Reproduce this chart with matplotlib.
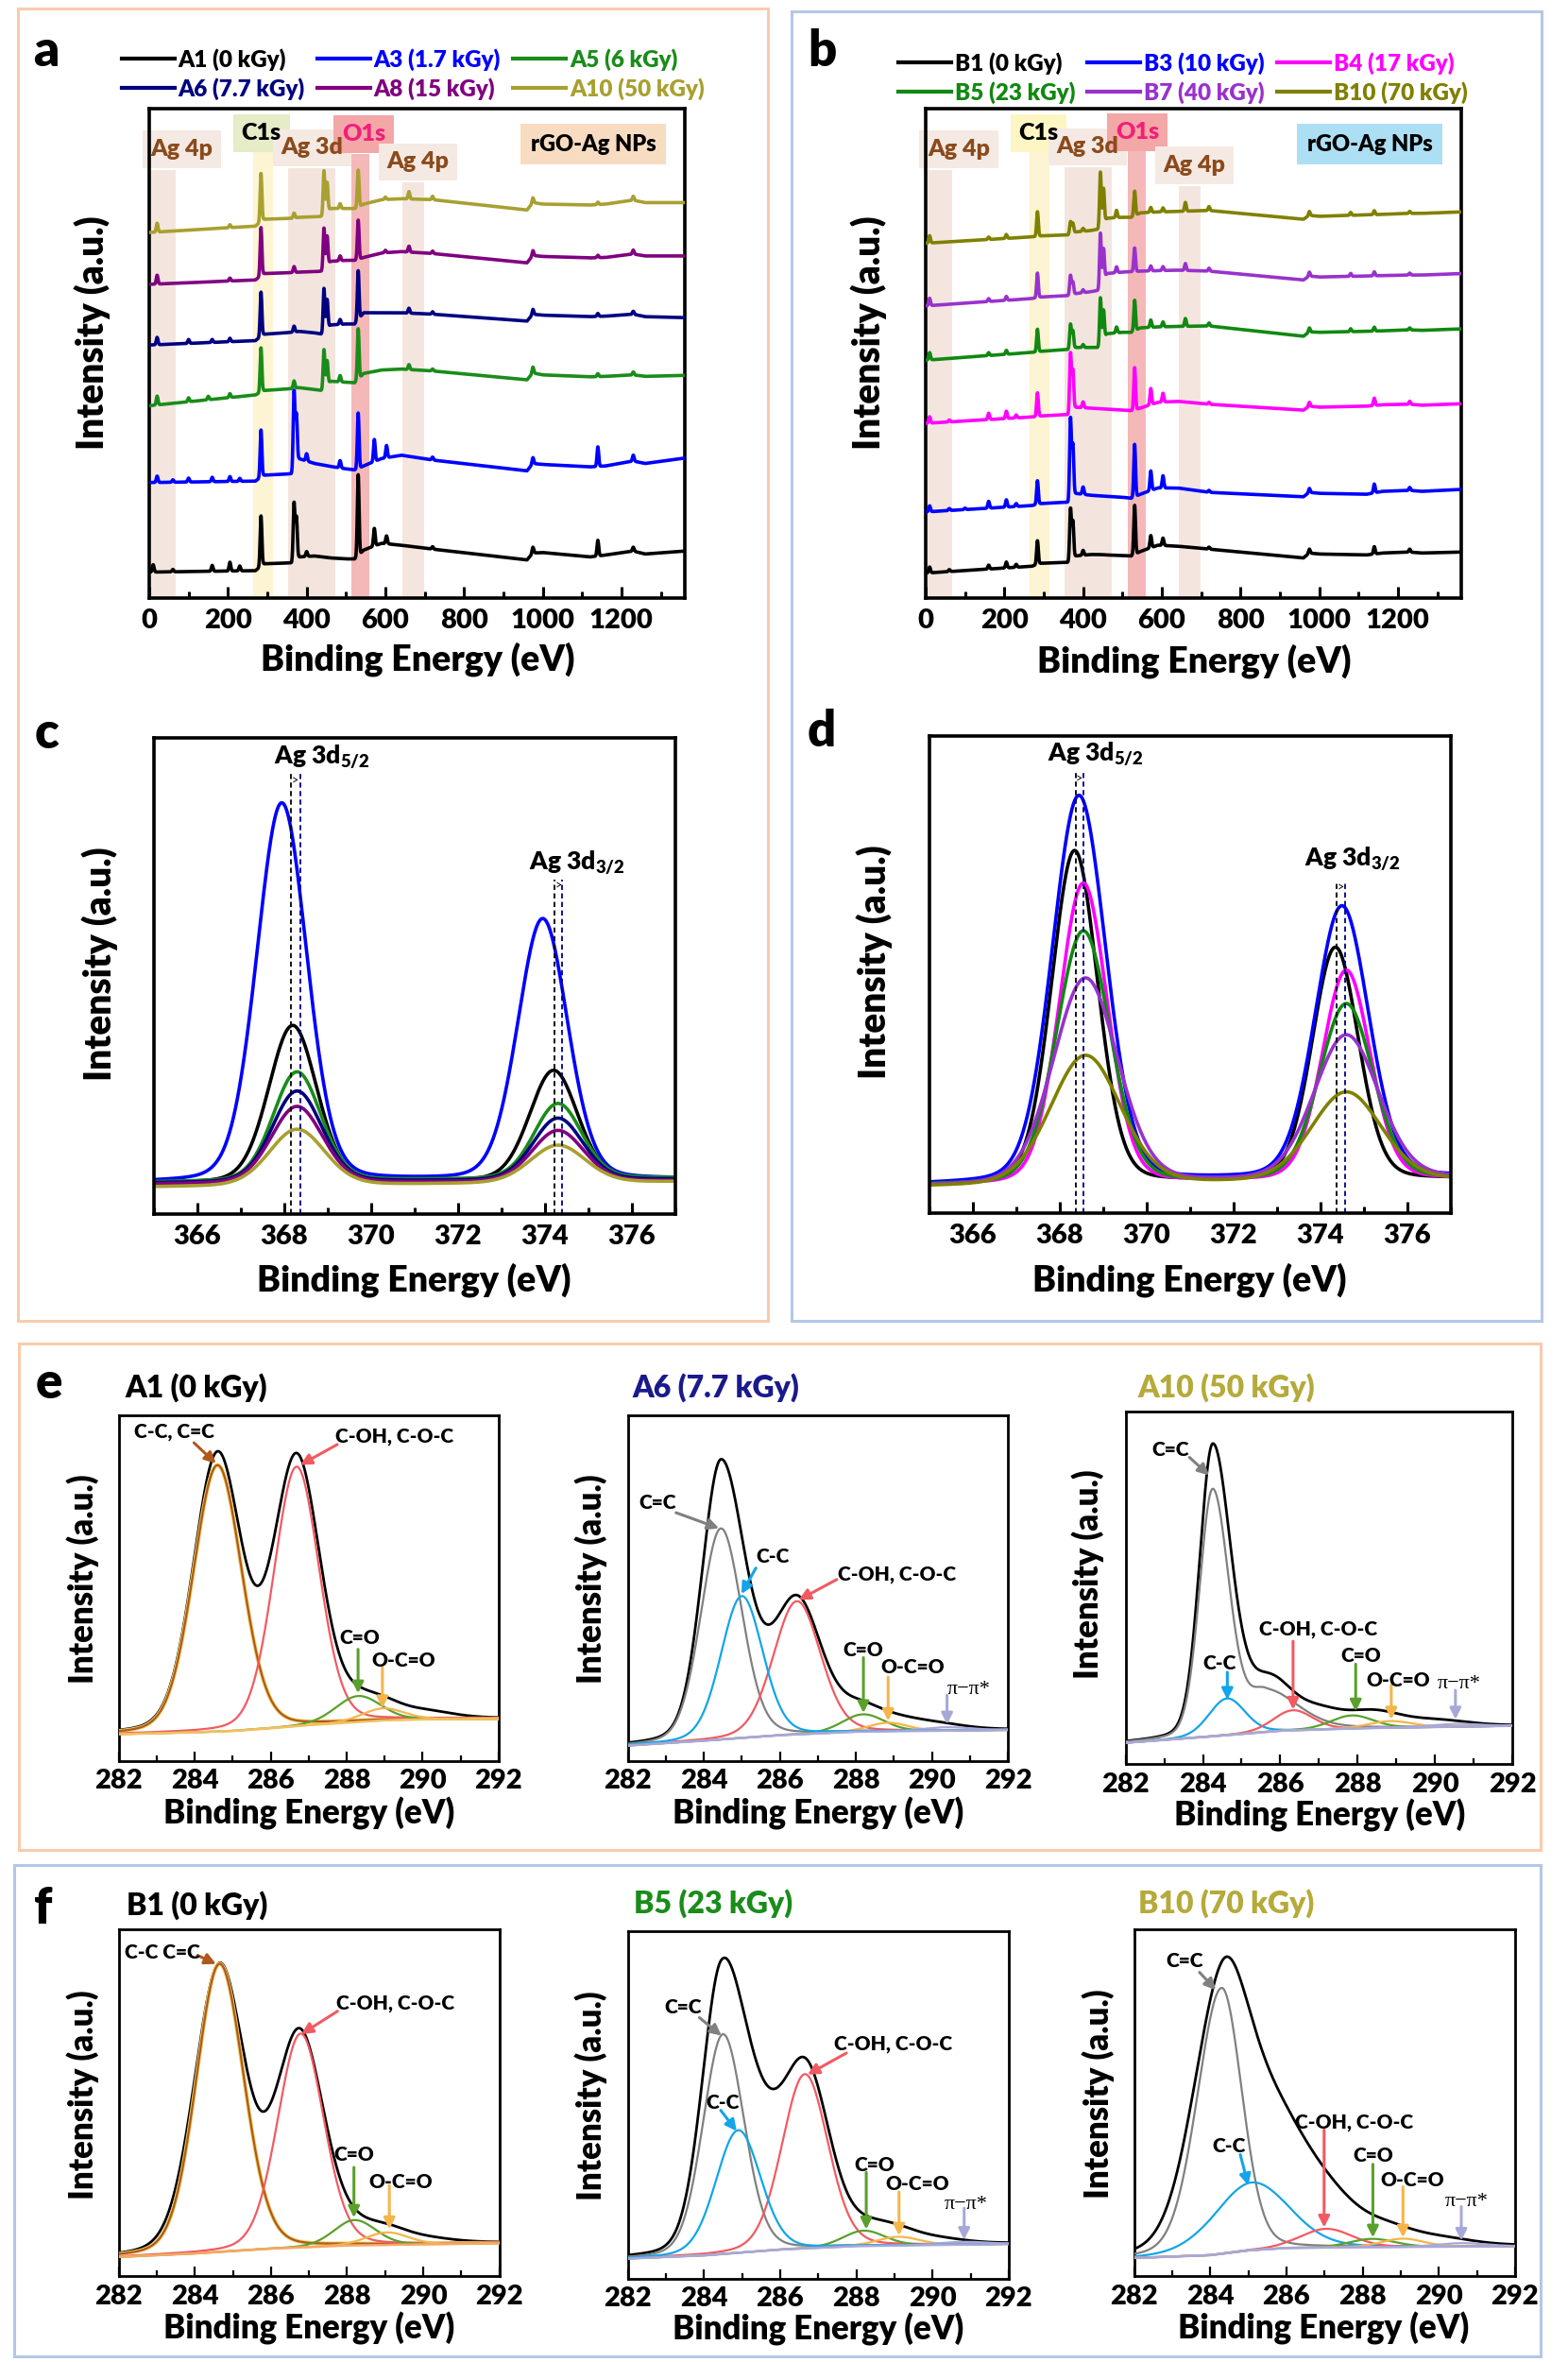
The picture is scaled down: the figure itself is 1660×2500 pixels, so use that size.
import numpy as np
import matplotlib
matplotlib.use('Agg')
import matplotlib.pyplot as plt
from matplotlib.patches import Rectangle

plt.rcParams['font.family'] = ['Lato', 'DejaVu Sans']
plt.rcParams['font.weight'] = 'heavy'
plt.rcParams['mathtext.fontset'] = 'custom'
plt.rcParams['mathtext.rm'] = 'Lato:heavy'
plt.rcParams['mathtext.it'] = 'Lato:heavy'
plt.rcParams['mathtext.bf'] = 'Lato:heavy'

W, H = 1660, 2500

# ---------------- survey spectra (a, b): baseline anchors + sharp lines ----------------
survey_E = [0, 270, 290, 362, 380, 420, 440, 460, 500, 522, 545, 590, 640, 720,
            960, 975, 1000, 1120, 1160, 1230, 1260, 1360]

A1_base = [5.3, 5.6, 7.0, 7.2, 8.4, 8.6, 8.4, 8.2, 8.0, 8.0, 9.8, 11.2, 10.8, 10.0, 7.8, 9.2, 9.3, 8.4, 8.8, 9.6, 9.0, 9.6]
A3_base = [23.6, 23.9, 25.1, 25.4, 28.5, 27.5, 27.2, 26.9, 26.4, 26.2, 27.0, 28.5, 29.2, 28.2, 26.0, 27.5, 27.3, 26.8, 27.0, 28.0, 27.5, 28.6]
A5_base = [39.3, 41.5, 42.4, 42.8, 43.0, 42.6, 42.4, 44.3, 44.1, 44.0, 45.9, 46.6, 46.8, 46.4, 44.6, 46.0, 45.6, 45.2, 45.3, 45.6, 45.3, 45.5]
A6_base = [51.7, 52.6, 53.9, 54.3, 54.5, 54.2, 53.9, 55.8, 56.0, 56.0, 58.3, 58.3, 58.3, 58.0, 56.6, 58.0, 57.8, 57.5, 57.6, 58.0, 57.5, 57.3]
A8_base = [64.1, 65.0, 66.3, 66.5, 66.6, 66.7, 66.8, 68.8, 69.0, 69.0, 69.6, 70.5, 70.8, 70.4, 68.5, 70.0, 69.8, 69.5, 69.6, 70.3, 69.9, 69.9]
A10_base = [74.7, 76.0, 77.4, 77.6, 77.8, 77.9, 78.0, 79.6, 79.6, 79.6, 80.5, 81.4, 81.6, 81.4, 79.3, 80.8, 80.5, 80.3, 80.5, 81.3, 80.8, 80.8]

A1_peaks = [(10, 1.5), (60, 0.5), (160, 1.2), (205, 1.8), (230, 1.0), (284, 10.2), (368, 11.8), (374, 8.5), (400, 1.0),
            (531, 16.5), (572, 3.6), (603, 1.6), (720, 0.5), (975, 1.2), (1140, 3.2), (1230, 0.8)]
A3_peaks = [(20, 1.3), (60, 0.5), (100, 0.8), (160, 0.9), (205, 1.0), (230, 0.6), (284, 9.6), (368, 15.8), (374, 10.0),
            (400, 1.5), (485, 1.5), (531, 11.3), (572, 4.5), (603, 2.5), (720, 0.6), (975, 1.2), (1140, 4.0), (1230, 1.2)]
A5_peaks = [(20, 1.8), (100, 0.8), (150, 0.7), (205, 0.8), (284, 9.0), (368, 1.5), (444, 8.0), (452, 5.0), (485, 1.3),
            (531, 10.3), (660, 1.0), (720, 0.4), (975, 1.2), (1140, 0.6), (1230, 0.6)]
A6_peaks = [(20, 1.5), (100, 0.8), (160, 0.6), (205, 0.7), (284, 9.0), (368, 1.2), (444, 9.0), (452, 6.0), (485, 1.0),
            (531, 10.0), (660, 1.0), (720, 0.5), (975, 1.0), (1140, 0.6), (1230, 0.6)]
A8_peaks = [(20, 1.8), (205, 0.6), (284, 9.8), (368, 1.2), (444, 8.4), (452, 6.0), (485, 1.0), (531, 8.0), (600, 0.5),
            (660, 1.2), (720, 0.5), (975, 1.0), (1140, 0.5), (1230, 0.8)]
A10_peaks = [(20, 1.8), (205, 0.6), (284, 9.8), (368, 1.0), (444, 9.0), (452, 6.0), (485, 1.0), (531, 7.5), (600, 0.5),
             (660, 1.5), (720, 0.7), (975, 1.0), (1140, 0.5), (1230, 0.8)]

B1_base = [5.1, 6.5, 7.1, 7.3, 8.6, 8.9, 8.9, 8.8, 8.7, 8.6, 9.5, 10.8, 10.6, 10.0, 8.2, 9.2, 9.0, 8.8, 9.2, 9.4, 9.2, 9.4]
B3_base = [17.6, 18.9, 19.3, 19.6, 21.4, 21.0, 20.9, 20.8, 20.6, 20.4, 21.2, 22.5, 22.5, 21.6, 20.7, 21.6, 21.4, 21.2, 21.8, 22.0, 21.8, 22.2]
B4_base = [35.7, 37.0, 37.2, 37.5, 39.0, 38.8, 38.7, 38.6, 38.4, 38.3, 38.8, 40.0, 40.2, 39.6, 38.4, 39.2, 39.0, 39.2, 39.5, 39.6, 39.4, 39.7]
B5_base = [48.6, 50.2, 50.4, 50.8, 51.2, 51.2, 51.2, 54.0, 54.3, 54.3, 55.2, 55.4, 55.5, 55.6, 53.5, 54.4, 54.3, 54.5, 54.6, 54.8, 54.7, 55.0]
B7_base = [59.7, 61.2, 61.5, 61.8, 62.2, 62.6, 62.9, 66.3, 66.6, 66.7, 66.8, 66.9, 67.0, 66.8, 65.0, 65.8, 65.6, 65.8, 65.9, 66.0, 66.0, 66.3]
B10_base = [72.5, 73.8, 74.0, 74.2, 74.8, 75.1, 75.4, 77.6, 77.8, 77.8, 78.7, 78.9, 79.0, 79.2, 77.4, 78.2, 78.0, 78.3, 78.4, 78.6, 78.6, 78.9]

B1_peaks = [(10, 1.2), (60, 0.4), (160, 0.8), (205, 1.2), (230, 0.6), (284, 4.8), (368, 10.5), (374, 7.5), (400, 1.0),
            (531, 10.0), (572, 2.5), (603, 1.5), (720, 0.4), (975, 0.8), (1140, 1.5), (1230, 0.6)]
B3_peaks = [(10, 1.2), (60, 0.4), (100, 0.3), (160, 1.4), (205, 1.5), (230, 0.6), (284, 4.8), (368, 16.5), (374, 10.5),
            (400, 1.5), (531, 10.7), (572, 4.0), (603, 2.5), (720, 0.4), (975, 0.8), (1140, 1.8), (1230, 0.6)]
B4_peaks = [(10, 1.3), (60, 0.4), (160, 1.3), (205, 1.5), (230, 0.6), (284, 4.8), (368, 12.0), (374, 8.0), (400, 1.2),
            (531, 8.6), (572, 3.3), (603, 1.8), (720, 0.4), (975, 0.8), (1140, 1.5), (1230, 0.6)]
B5_peaks = [(10, 1.5), (160, 0.6), (205, 0.8), (284, 4.6), (368, 5.0), (374, 3.5), (400, 0.6), (444, 9.6), (452, 6.0),
            (485, 1.2), (531, 6.2), (572, 1.5), (603, 1.0), (660, 1.6), (720, 0.6), (975, 0.8), (1080, 0.6), (1140, 0.8), (1230, 0.4)]
B7_peaks = [(10, 1.5), (160, 0.6), (205, 0.8), (284, 5.0), (368, 4.0), (374, 2.5), (400, 0.6), (444, 11.0), (452, 6.5),
            (485, 1.2), (531, 4.8), (572, 1.0), (603, 0.8), (660, 1.4), (720, 0.6), (975, 0.8), (1080, 0.6), (1140, 0.8), (1230, 0.4)]
B10_peaks = [(10, 1.5), (160, 0.5), (205, 0.8), (284, 5.0), (368, 2.5), (374, 2.0), (400, 0.6), (444, 11.2), (452, 7.0),
             (485, 1.5), (531, 5.0), (572, 1.0), (603, 0.8), (660, 1.8), (720, 0.8), (975, 0.8), (1080, 0.6), (1140, 0.8), (1230, 0.4)]

A_labels = ['A1 (0 kGy)', 'A3 (1.7 kGy)', 'A5 (6 kGy)', 'A6 (7.7 kGy)', 'A8 (15 kGy)', 'A10 (50 kGy)']
B_labels = ['B1 (0 kGy)', 'B3 (10 kGy)', 'B4 (17 kGy)', 'B5 (23 kGy)', 'B7 (40 kGy)', 'B10 (70 kGy)']
A_colors = ['black', '#0000FF', '#1A8C1A', '#000080', '#800080', '#A8A030']
B_colors = ['black', '#0000FF', '#FF00FF', '#118811', '#9932CC', '#808000']

# XPS regions marked in the surveys
band_lo = [6, 265, 352, 514, 644]
band_hi = [68, 315, 472, 559, 698]
band_names = ['Ag 4p', 'C1s', 'Ag 3d', 'O1s', 'Ag 4p']

# ---------------- Ag 3d (c, d): peak position / height / FWHM ----------------
c_pos52 = [367.95, 368.2, 368.3, 368.3, 368.3, 368.3]      # A3, A1, A5, A6, A8, A10
c_h52 = [79.5, 32.9, 22.9, 19.1, 16.1, 11.8]
c_pos32 = [373.95, 374.2, 374.3, 374.3, 374.3, 374.3]
c_h32 = [54.8, 23.1, 15.8, 13.0, 10.7, 7.9]
c_fwhm = [1.35, 1.3, 1.3, 1.35, 1.4, 1.5]
c_base = [(6.6, 7.3), (6.5, 7.2), (6.7, 7.6), (6.5, 7.3), (6.3, 7.0), (5.7, 6.8)]
c_order = [1, 0, 2, 3, 4, 5]

d_pos52 = [368.45, 368.35, 368.55, 368.55, 368.6, 368.6]   # B3, B1, B4, B5, B7, B10
d_h52 = [81.0, 69.6, 62.9, 52.8, 43.0, 27.0]
d_pos32 = [374.5, 374.35, 374.6, 374.6, 374.6, 374.6]
d_h32 = [57.0, 48.7, 43.9, 36.8, 30.2, 18.6]
d_fwhm = [1.45, 1.25, 1.3, 1.45, 1.75, 1.9]
d_base = [(6.0, 7.6), (6.0, 7.2), (5.8, 7.2), (5.9, 7.3), (5.7, 7.4), (5.6, 7.0)]
d_order = [1, 0, 2, 3, 4, 5]

# ---------------- C 1s fits (e, f): (centre, height, FWHM left, FWHM right) ----------------
e1_bkg = ([282, 284, 285, 286, 287, 288, 289, 290, 292], [7.8, 8.3, 8.7, 9.5, 10.4, 11.1, 11.8, 12.1, 12.2])
e1_env = [(284.6, 79.5, 1.5, 1.5), (286.68, 77.0, 1.45, 1.45), (288.3, 4.5, 1.4, 1.4), (289.0, 3.0, 1.4, 1.4), (290.2, 1.5, 1.5, 1.5)]
e1_cc = [(284.6, 77.0, 1.5, 1.5)]
e1_coh = [(286.68, 75.0, 1.4, 1.4)]
e1_co = [(288.3, 7.5, 1.4, 1.4)]
e1_oco = [(288.95, 3.5, 1.3, 1.3)]

e2_bkg = ([282, 284, 286, 288, 292], [4.5, 5.9, 7.5, 8.5, 9.0])
e2_env = [(284.45, 80.0, 1.17, 1.5), (286.45, 38.0, 1.5, 1.5), (288.1, 6.0, 1.4, 1.4), (289.2, 2.5, 1.6, 1.6), (290.3, 1.2, 1.6, 1.6)]
e2_cdc = [(284.45, 61.0, 1.24, 1.3)]
e2_cc = [(285.0, 41.0, 1.29, 1.29)]
e2_coh = [(286.45, 38.5, 1.46, 1.46)]
e2_co = [(288.2, 5.0, 1.3, 1.3)]
e2_oco = [(288.85, 2.5, 1.2, 1.2)]
e2_pi = [(290.4, 1.0, 1.5, 1.5)]

e3_bkg = ([282, 283.5, 284, 285, 286, 288, 292], [6.1, 7.3, 7.7, 8.6, 9.5, 10.2, 10.9])
e3_env = [(284.25, 82.0, 0.8, 1.1), (285.7, 14.0, 1.4, 1.4), (287.0, 4.5, 1.4, 1.4), (288.4, 4.2, 1.6, 1.6), (290.0, 1.8, 2.0, 2.0)]
e3_cdc = [(284.25, 70.0, 0.8, 1.0), (285.6, 11.0, 1.0, 2.0)]
e3_cc = [(284.62, 10.4, 1.1, 1.1)]
e3_coh = [(286.33, 5.7, 1.2, 1.2)]
e3_co = [(287.85, 3.7, 1.3, 1.3)]
e3_oco = [(288.85, 1.9, 1.3, 1.3)]
e3_pi = [(290.55, 0.8, 1.5, 1.5)]

f1_bkg = ([282, 284, 286, 288, 292], [5.6, 6.6, 8.0, 8.9, 9.6])
f1_env = [(284.65, 82.0, 1.55, 1.55), (286.75, 61.0, 1.5, 1.5), (288.2, 3.0, 1.4, 1.4), (289.05, 3.5, 1.4, 1.4), (290.2, 1.0, 1.5, 1.5)]
f1_cc = [(284.65, 83.0, 1.45, 1.5)]
f1_coh = [(286.78, 61.6, 1.42, 1.42)]
f1_co = [(288.2, 7.3, 1.3, 1.3)]
f1_oco = [(289.05, 3.6, 1.3, 1.3)]

f2_bkg = ([282, 284, 286, 288, 292], [5.8, 6.7, 8.4, 9.4, 10.0])
f2_env = [(284.45, 77.0, 1.2, 1.5), (285.5, 22.0, 1.6, 1.6), (286.7, 48.0, 1.45, 1.45), (288.3, 4.0, 1.4, 1.4),
          (289.1, 3.0, 1.4, 1.4), (290.2, 1.2, 1.6, 1.6)]
f2_cdc = [(284.5, 63.3, 1.24, 1.3)]
f2_cc = [(284.9, 35.3, 1.38, 1.38)]
f2_coh = [(286.65, 50.2, 1.42, 1.42)]
f2_co = [(288.2, 4.4, 1.3, 1.3)]
f2_oco = [(289.1, 2.5, 1.3, 1.3)]
f2_pi = [(290.8, 0.8, 1.5, 1.5)]

f3_bkg = ([282, 284, 285, 286, 288, 292], [5.3, 6.1, 7.5, 8.2, 8.4, 8.7])
f3_env = [(284.3, 70.0, 1.8, 1.6), (285.6, 36.0, 2.2, 2.2), (287.2, 10.0, 2.0, 2.0), (288.7, 3.5, 1.6, 1.6), (290.0, 2.0, 2.0, 2.0)]
f3_cdc = [(284.3, 76.6, 1.5, 1.25)]
f3_cc = [(285.1, 19.5, 2.3, 2.3)]
f3_coh = [(287.05, 5.4, 1.6, 1.6)]
f3_co = [(288.25, 2.4, 1.4, 1.4)]
f3_oco = [(289.05, 2.4, 1.3, 1.3)]
f3_pi = [(290.6, 1.0, 1.5, 1.5)]

BROWN, RED, GREEN, ORANGE = '#B0581E', '#F25A62', '#5AA02C', '#F5B54A'
GRAY, SKY, LAV = '#808080', '#12A5E8', '#A8A8D8'
OLIVE_T = '#B5AA3A'

# ---------------- helpers ----------------
fig = plt.figure(figsize=(W / 100, H / 100), dpi=100)


def add_ax(l, t, r, b):
    return fig.add_axes([l / W, 1 - b / H, (r - l) / W, (b - t) / H])


def ftext(x, y, s, **kw):
    return fig.text(x / W, 1 - y / H, s, **kw)


def box(l, t, r, b, col):
    fig.add_artist(Rectangle((l / W, 1 - b / H), (r - l) / W, (b - t) / H, transform=fig.transFigure,
                             fill=False, ec=col, lw=2.2))


def survey(x, base, peaks, sig=2.2):
    y = np.interp(x, survey_E, base)
    for c, h in peaks:
        y = y + h * np.exp(-0.5 * ((x - c) / sig) ** 2)
    return y


def pv(x, c, h, fl, fr, eta=0.15):
    hw = np.where(x < c, fl / 2, fr / 2)
    u = (x - c) / hw
    return h * ((1 - eta) * np.exp(-np.log(2) * u ** 2) + eta / (1 + u ** 2))


def style(ax, lw, lsize, major, minor, pad, tl=8, tw=1.8):
    for s in ax.spines.values():
        s.set_linewidth(lw)
    ax.set_yticks([])
    ax.set_xticks(major)
    ax.set_xticks(minor, minor=True)
    ax.tick_params(axis='x', which='major', direction='in', length=tl, width=tw, labelsize=lsize, pad=pad)
    ax.tick_params(axis='x', which='minor', direction='in', length=tl * 0.6, width=tw)
    ax.set_ylim(0, 100)


# panel frames
box(18.5, 9, 812.6, 1398, '#F8CBAD')
box(838, 11.5, 1632, 1398, '#B4C7E7')
box(19.6, 1422, 1631, 1958, '#F8CBAD')
box(15, 1974, 1631, 2494, '#B4C7E7')

# ---------------- a, b: survey spectra ----------------
xs = np.arange(0, 1361, 0.5)
survey_panels = [
    ((158, 115, 725, 633), [A1_base, A3_base, A5_base, A6_base, A8_base, A10_base],
     [A1_peaks, A3_peaks, A5_peaks, A6_peaks, A8_peaks, A10_peaks], A_labels, A_colors,
     [87.4, 91.1, 87.8, 90.7, 84.9], [(83, 91.7), (285, 95.0), (414, 92.0), (545, 94.8), (683, 89.1)],
     '#E6EBC8', '#F8DCC2', (129, 106)),
    ((980, 115, 1547, 633), [B1_base, B3_base, B4_base, B5_base, B7_base, B10_base],
     [B1_peaks, B3_peaks, B4_peaks, B5_peaks, B7_peaks, B10_peaks], B_labels, B_colors,
     [87.4, 91.1, 88.0, 91.3, 84.2], [(84, 91.7), (287, 95.0), (411, 92.2), (538, 95.2), (683, 88.4)],
     '#FDF6C3', '#ADDFF4', (951, 110)),
]
band_cols = ['#F4E6DF', '#FCF4D2', '#F3E5DE', '#F4B8B8', '#F4E6DF']
lab_cols = ['#F5E9E3', None, '#F5E9E3', '#F4A7A7', '#F5E9E3']
for pos, bases, peaks, labels, cols, tops, lpos, c1s_col, rgo_col, leg_xy in survey_panels:
    ax = add_ax(*pos)
    style(ax, 2.6, 21, np.arange(0, 1201, 200), np.arange(0, 1361, 100), 8, tl=9, tw=2.2)
    ax.set_xlim(0, 1361)
    for i in range(5):
        ax.axvspan(band_lo[i], band_hi[i], ymax=tops[i] / 100, color=band_cols[i], lw=0, zorder=0)
        fc = c1s_col if i == 1 else lab_cols[i]
        tc = '#F0207A' if i == 3 else ('black' if i == 1 else '#8A4B1C')
        ax.text(lpos[i][0], lpos[i][1], band_names[i], ha='center', va='center', fontsize=18, color='none',
                bbox=dict(boxstyle='square,pad=0.35', fc=fc, ec='none'), zorder=1)
        ax.text(lpos[i][0], lpos[i][1], band_names[i], ha='center', va='center', fontsize=18, color=tc, zorder=2)
    ax.text(1128, 92.7, 'rGO-Ag NPs', ha='center', va='center', fontsize=17, color='black',
            bbox=dict(boxstyle='square,pad=0.45', fc=rgo_col, ec='none'), zorder=1)
    handles = []
    for b, p, lab, col in zip(bases, peaks, labels, cols):
        ln, = ax.plot(xs, survey(xs, b, p), color=col, lw=2.6, label=lab, zorder=3)
        handles.append(ln)
    order = [0, 3, 1, 4, 2, 5]
    leg = ax.legend([handles[k] for k in order], [labels[k] for k in order], ncol=3, loc='lower left',
                    bbox_to_anchor=(leg_xy[0] / W, 1 - leg_xy[1] / H), bbox_transform=fig.transFigure,
                    frameon=False, fontsize=17.5, handlelength=2.3, handletextpad=0.15, columnspacing=0.55,
                    labelspacing=0.3, borderpad=0, borderaxespad=0, labelcolor='linecolor')
    for ln in leg.get_lines():
        ln.set_linewidth(3.0)

ftext(98, 352, 'Intensity (a.u.)', rotation=90, ha='center', va='center', fontsize=28)
ftext(442, 698, 'Binding Energy (eV)', ha='center', va='center', fontsize=27)
ftext(920, 352, 'Intensity (a.u.)', rotation=90, ha='center', va='center', fontsize=28)
ftext(1264, 700, 'Binding Energy (eV)', ha='center', va='center', fontsize=27)
ftext(49, 55, 'a', ha='center', va='center', fontsize=38)
ftext(870, 55, 'b', ha='center', va='center', fontsize=38)

# ---------------- c, d: Ag 3d ----------------
xc = np.arange(365, 377.001, 0.01)
cd_panels = [
    ((162.5, 781, 715, 1285), c_pos52, c_h52, c_pos32, c_h32, c_fwhm, c_base, c_order,
     [A_colors[1], A_colors[0], A_colors[2], A_colors[3], A_colors[4], A_colors[5]],
     (368.15, 368.37, 92.4), (374.22, 374.40, 70.3), (368.88, 94.4), (374.73, 72.3)),
    ((983.5, 779, 1535.7, 1284), d_pos52, d_h52, d_pos32, d_h32, d_fwhm, d_base, d_order,
     [B_colors[1], B_colors[0], B_colors[2], B_colors[3], B_colors[4], B_colors[5]],
     (368.37, 368.55, 92.4), (374.37, 374.58, 69.6), (368.84, 94.6), (374.74, 72.7)),
]
for pos, p52, h52, p32, h32, fw, base, order, cols, dl1, dl2, t1, t2 in cd_panels:
    ax = add_ax(*pos)
    style(ax, 2.6, 21, np.arange(366, 377, 2), np.arange(365, 378, 1), 8, tl=9, tw=2.2)
    ax.set_xlim(365, 377)
    for i in order:
        y = (np.interp(xc, [365, 377], base[i]) + pv(xc, p52[i], h52[i], fw[i], fw[i])
             + pv(xc, p32[i], h32[i], fw[i], fw[i]))
        ax.plot(xc, y, color=cols[i], lw=2.6)
    for a, b, top in (dl1, dl2):
        ax.vlines([a], 0, top, colors='black', linestyles=(0, (3, 2)), lw=1.3)
        ax.vlines([b], 0, top, colors='#000080', linestyles=(0, (3, 2)), lw=1.3)
        ax.text((a + b) / 2, top - 1.2, '>', ha='center', va='center', fontsize=9, fontweight='normal')
    ax.text(t1[0], t1[1], r'Ag 3d$_{5/2}$', ha='center', va='baseline', fontsize=19)
    ax.text(t2[0], t2[1], r'Ag 3d$_{3/2}$', ha='center', va='baseline', fontsize=19)

ftext(106, 1020, 'Intensity (a.u.)', rotation=90, ha='center', va='center', fontsize=28)
ftext(438.6, 1355, 'Binding Energy (eV)', ha='center', va='center', fontsize=27)
ftext(926, 1018, 'Intensity (a.u.)', rotation=90, ha='center', va='center', fontsize=28)
ftext(1259.6, 1355, 'Binding Energy (eV)', ha='center', va='center', fontsize=27)
ftext(49, 776, 'c', ha='center', va='center', fontsize=38)
ftext(870, 774, 'd', ha='center', va='center', fontsize=38)

# ---------------- e, f: C 1s deconvolution ----------------
xe = np.arange(282, 292.001, 0.01)


def curve(peaks, bkg):
    y = np.interp(xe, bkg[0], bkg[1])
    for c, h, fl, fr in peaks:
        y = y + pv(xe, c, h, fl, fr)
    return y


e1_notes = [('C-C, C=C', 283.47, 95.3, 283.98, 92.0, 284.56, 86.0, BROWN),
            ('C-OH, C-O-C', 289.26, 93.7, 287.75, 91.5, 286.78, 85.6, RED),
            ('C=O', 288.33, 35.6, 288.3, 32.3, 288.3, 19.6, GREEN),
            ('O-C=O', 289.49, 29.2, 288.94, 27.1, 288.94, 15.3, ORANGE)]
e2_notes = [('C=C', 282.78, 74.6, 283.27, 71.8, 284.4, 67.3, GRAY),
            ('C-C', 285.81, 59.1, 285.37, 55.8, 284.99, 48.3, SKY),
            ('C-OH, C-O-C', 289.07, 53.9, 287.5, 52.5, 286.5, 46.6, RED),
            ('C=O', 288.2, 32.0, 288.2, 29.9, 288.2, 13.9, GREEN),
            ('O-C=O', 289.5, 27.3, 288.85, 24.3, 288.85, 11.6, ORANGE),
            ('π−π*', 290.97, 20.5, 290.4, 19.1, 290.4, 10.6, LAV)]
e3_notes = [('C=C', 283.16, 89.2, 283.65, 87.1, 284.16, 82.0, GRAY),
            ('C-C', 284.42, 28.6, 284.63, 26.1, 284.63, 18.3, SKY),
            ('C-OH, C-O-C', 286.99, 38.4, 286.33, 34.9, 286.33, 15.5, RED),
            ('C=O', 288.08, 30.7, 287.95, 28.4, 287.95, 15.0, GREEN),
            ('O-C=O', 289.04, 23.8, 288.87, 22.4, 288.87, 12.7, ORANGE),
            ('π−π*', 290.63, 22.7, 290.53, 21.0, 290.53, 12.7, LAV)]
f1_notes = [('C-C C=C', 283.14, 93.3, 284.07, 92.5, 284.56, 90.0, BROWN),
            ('C-OH, C-O-C', 289.26, 78.7, 287.75, 76.4, 286.8, 69.8, RED),
            ('C=O', 288.18, 35.1, 288.18, 31.4, 288.18, 16.9, GREEN),
            ('O-C=O', 289.42, 27.2, 289.11, 26.2, 289.11, 13.6, ORANGE)]
f2_notes = [('C=C', 283.44, 78.2, 283.88, 75.2, 284.46, 70.0, GRAY),
            ('C-C', 284.48, 50.8, 284.44, 48.5, 284.86, 42.5, SKY),
            ('C-OH, C-O-C', 288.96, 67.5, 287.74, 65.0, 286.72, 58.8, RED),
            ('C=O', 288.47, 32.8, 288.26, 30.6, 288.26, 14.2, GREEN),
            ('O-C=O', 289.6, 27.4, 289.12, 25.0, 289.12, 12.4, ORANGE),
            ('π−π*', 290.89, 21.3, 290.83, 20.3, 290.83, 11.2, LAV)]
f3_notes = [('C=C', 283.33, 90.9, 283.72, 87.6, 284.15, 82.5, GRAY),
            ('C-C', 284.5, 37.5, 284.79, 35.1, 285.0, 26.2, SKY),
            ('C-OH, C-O-C', 287.77, 44.3, 286.99, 42.2, 286.99, 14.1, RED),
            ('C=O', 288.29, 34.7, 288.27, 32.3, 288.27, 11.2, GREEN),
            ('O-C=O', 289.3, 27.6, 289.06, 25.8, 289.06, 11.2, ORANGE),
            ('π−π*', 290.72, 21.6, 290.59, 20.1, 290.59, 10.3, LAV)]

ef_panels = [
    ((125.7, 1497.8, 527.9, 1864), e1_bkg, e1_env, [(e1_cc, BROWN), (e1_coh, RED), (e1_co, GREEN), (e1_oco, ORANGE)],
     '#F2C060', e1_notes, 'A1 (0 kGy)', 'black', (132, 1468.5), (87.5, 1670.7), (326.8, 1919.6)),
    ((664.6, 1497.8, 1067, 1864), e2_bkg, e2_env, [(e2_cdc, GRAY), (e2_coh, RED), (e2_co, GREEN), (e2_oco, ORANGE),
                                                   (e2_pi, LAV), (e2_cc, SKY)],
     LAV, e2_notes, 'A6 (7.7 kGy)', '#1A1A8C', (669, 1468.5), (626, 1670.7), (865.7, 1919.6)),
    ((1191.7, 1494.4, 1601, 1867.3), e3_bkg, e3_env, [(e3_cdc, GRAY), (e3_cc, SKY), (e3_coh, RED), (e3_co, GREEN),
                                                      (e3_oco, ORANGE), (e3_pi, LAV)],
     LAV, e3_notes, 'A10 (50 kGy)', OLIVE_T, (1204.7, 1468.5), (1152, 1666.5), (1396.7, 1921)),
    ((125.7, 2042, 528.6, 2409.4), f1_bkg, f1_env, [(f1_cc, BROWN), (f1_coh, RED), (f1_co, GREEN), (f1_oco, ORANGE)],
     '#F4A865', f1_notes, 'B1 (0 kGy)', 'black', (134, 2016.8), (87.5, 2217), (326.8, 2464.5)),
    ((664.6, 2044.4, 1067.9, 2411.8), f2_bkg, f2_env, [(f2_cdc, GRAY), (f2_coh, RED), (f2_co, GREEN), (f2_oco, ORANGE),
                                                       (f2_pi, LAV), (f2_cc, SKY)],
     LAV, f2_notes, 'B5 (23 kGy)', '#1A8C1A', (670.7, 2015), (626, 2218), (865.9, 2465.5)),
    ((1200.5, 2042, 1603.9, 2409.4), f3_bkg, f3_env, [(f3_cdc, GRAY), (f3_cc, SKY), (f3_coh, RED), (f3_co, GREEN),
                                                      (f3_oco, ORANGE), (f3_pi, LAV)],
     LAV, f3_notes, 'B10 (70 kGy)', OLIVE_T, (1205.4, 2015), (1162.6, 2216.5), (1401, 2464.5)),
]

for pos, bkg, env, comps, bcol, notes, title, tcol, tpos, ylpos, xlpos in ef_panels:
    ax = add_ax(*pos)
    style(ax, 2.0, 21, np.arange(282, 293, 2), np.arange(282, 293, 1), 6, tl=7, tw=1.6)
    ax.set_xlim(282, 292)
    ax.plot(xe, curve(env, bkg), color='black', lw=2.0, zorder=3)
    for peaks, col in comps:
        if col == BROWN:
            ax.plot(xe, curve(peaks, bkg), color='#EED060', lw=3.0, zorder=3)
        ax.plot(xe, curve(peaks, bkg), color=col, lw=1.6, zorder=4)
    ax.plot(bkg[0], bkg[1], color=bcol, lw=1.8, zorder=4)
    for txt, tx, ty, x0, y0, x1, y1, col in notes:
        if txt.startswith('π'):
            ax.text(tx, ty, txt, ha='center', va='center', fontsize=16, fontweight='normal',
                    family=['Liberation Serif', 'DejaVu Serif'], zorder=6)
        else:
            ax.text(tx, ty, txt, ha='center', va='center', fontsize=15, zorder=6)
        ax.annotate('', xy=(x1, y1), xytext=(x0, y0), zorder=5,
                    arrowprops=dict(arrowstyle='-|>,head_length=0.7,head_width=0.35', color=col, lw=2.2,
                                    shrinkA=0, shrinkB=0))
    ftext(tpos[0], tpos[1], title, ha='left', va='center', fontsize=23, color=tcol)
    ftext(ylpos[0], ylpos[1], 'Intensity (a.u.)', rotation=90, ha='center', va='center', fontsize=25)
    ftext(xlpos[0], xlpos[1], 'Binding Energy (eV)', ha='center', va='center', fontsize=25)

ftext(52, 1464, 'e', ha='center', va='center', fontsize=38)
ftext(46, 2020, 'f', ha='center', va='center', fontsize=38)

fig.savefig('out.png', dpi=100, facecolor='white')
